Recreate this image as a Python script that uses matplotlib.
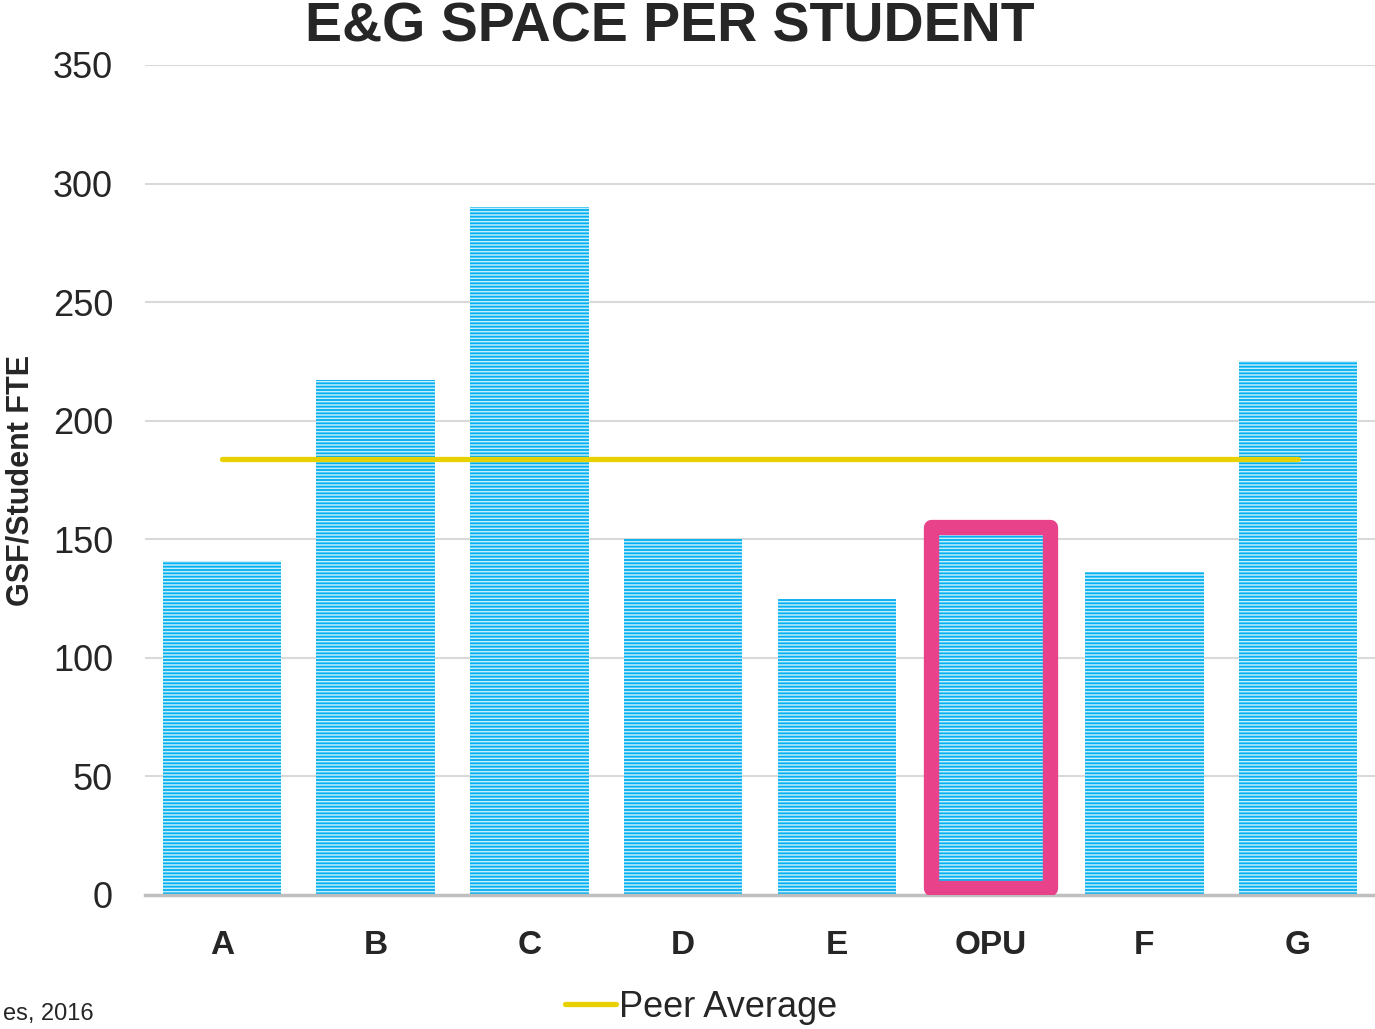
import matplotlib.pyplot as plt
from matplotlib.patches import Rectangle

# veriler
categories = ["A", "B", "C", "D", "E", "OPU", "F", "G"]
gsf_per_student = [141, 217, 290, 150, 125, 155, 136, 225]
peer_average = 184
yticks = [0, 50, 100, 150, 200, 250, 300, 350]

plt.rcParams['font.family'] = ['Liberation Sans', 'DejaVu Sans']
plt.rcParams['hatch.linewidth'] = 1.1

fig = plt.figure(figsize=(13.75, 10.29), dpi=100)
ax = fig.add_axes([145 / 1375, 1 - 895 / 1029, 1230 / 1375, 830 / 1029])

x = list(range(len(categories)))
bars = ax.bar(x, gsf_per_student, width=0.77, color='#00b0f0',
              edgecolor='#c4ecfb', linewidth=0, hatch='-----', zorder=2)

# OPU vurgusu
i = categories.index("OPU")
ax.add_patch(Rectangle((i - 0.385, 3), 0.77, gsf_per_student[i] - 3,
                       fill=False, edgecolor='#e8428a', linewidth=11,
                       joinstyle='round', zorder=4))

# akran ortalaması
line, = ax.plot([x[0], x[-1]], [peer_average, peer_average], color='#e8d100',
                linewidth=3.8, solid_capstyle='round', zorder=3)

ax.set_xlim(-0.5, len(categories) - 0.5)
ax.set_ylim(0, 350)
ax.set_yticks(yticks)
ax.set_xticks(x)
ax.set_xticklabels(categories, fontsize=24, fontweight='bold', color='#262626')
ax.set_yticklabels([str(t) for t in yticks], fontsize=26, color='#262626')
ax.tick_params(axis='y', length=0, pad=23)
ax.tick_params(axis='x', length=0, pad=25)
ax.grid(axis='y', color='#d9d9d9', linewidth=1.5, zorder=0)
for s in ['top', 'right', 'left']:
    ax.spines[s].set_visible(False)
ax.spines['bottom'].set_color('#bfbfbf')
ax.spines['bottom'].set_linewidth(2.5)
ax.spines['bottom'].set_zorder(3)

ax.set_ylabel("GSF/Student FTE", fontsize=22, fontweight='bold', color='#262626')
ax.yaxis.set_label_coords(-0.089, 0.5)

fig.text(0.487, 0.973, "E&G SPACE PER STUDENT", ha='center', va='center',
         fontsize=40, fontweight='bold', color='#262626')

fig.legend([line], ["Peer Average"], loc='center', bbox_to_anchor=(0.51, 0.021),
           frameon=False, fontsize=26, handlelength=1.4, handletextpad=0.1,
           labelcolor='#262626')

fig.text(0.002, 0.004, "es, 2016", ha='left', va='bottom', fontsize=17,
         color='#262626')

fig.savefig("out.png", dpi=100)
